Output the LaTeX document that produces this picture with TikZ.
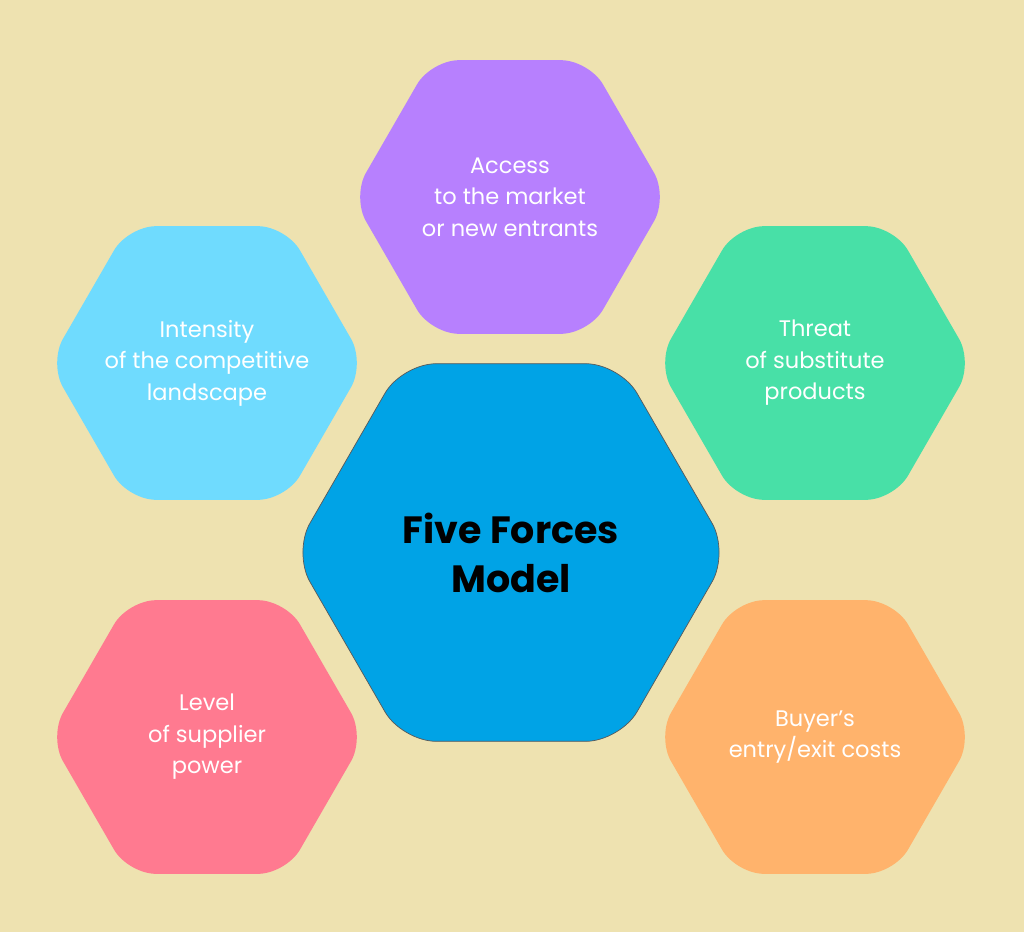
\documentclass[tikz,border=0pt]{standalone}
\usepackage{fontspec}
\setmainfont{Poppins}
\usetikzlibrary{shapes.geometric}
\definecolor{bgc}{RGB}{238,226,176}
\definecolor{purplec}{RGB}{183,128,254}
\definecolor{cyanc}{RGB}{111,219,254}
\definecolor{greenc}{RGB}{72,224,167}
\definecolor{pinkc}{RGB}{255,122,144}
\definecolor{orangec}{RGB}{255,179,108}
\definecolor{bluec}{RGB}{0,163,230}
\tikzset{
  hexsmall/.style={regular polygon, regular polygon sides=6, minimum size=316pt,
    inner sep=0pt, rounded corners=28pt, draw=none},
  hexbig/.style={regular polygon, regular polygon sides=6, minimum size=436pt,
    inner sep=0pt, rounded corners=34pt, fill=bluec, draw=black!65, line width=0.7pt},
  smalltext/.style={text=white, align=center, inner sep=0pt,
    font=\fontsize{22.5}{31.5}\selectfont},
  bigtext/.style={text=black, align=center, inner sep=0pt,
    font=\fontsize{38}{49}\selectfont\bfseries}
}
\begin{document}
\begin{tikzpicture}[x=1pt,y=-1pt]
\fill[bgc] (0,0) rectangle (1024,932);
\useasboundingbox (0,0) rectangle (1024,932);
\node[hexsmall, fill=purplec] (entrants) at (510,197) {};
\node[hexsmall, fill=cyanc] (rivalry) at (207,363) {};
\node[hexsmall, fill=greenc] (substitutes) at (815,363) {};
\node[hexsmall, fill=pinkc] (suppliers) at (207,737) {};
\node[hexsmall, fill=orangec] (buyers) at (815,737) {};
\node[hexbig] (model) at (511,552.5) {};
\node[smalltext] (entrantsT) at (entrants.center) {Access\\to the market\\or new entrants};
\node[smalltext] (rivalryT) at (rivalry.center) {Intensity\\of the competitive\\landscape};
\node[smalltext] (substitutesT) at (substitutes.center) {Threat\\of substitute\\products};
\node[smalltext] (suppliersT) at (suppliers.center) {Level\\of supplier\\power};
\node[smalltext] (buyersT) at (buyers.center) {Buyer’s\\entry/exit costs};
\node[bigtext] (modelT) at (model.center) {Five Forces\\Model};
\end{tikzpicture}
\end{document}
